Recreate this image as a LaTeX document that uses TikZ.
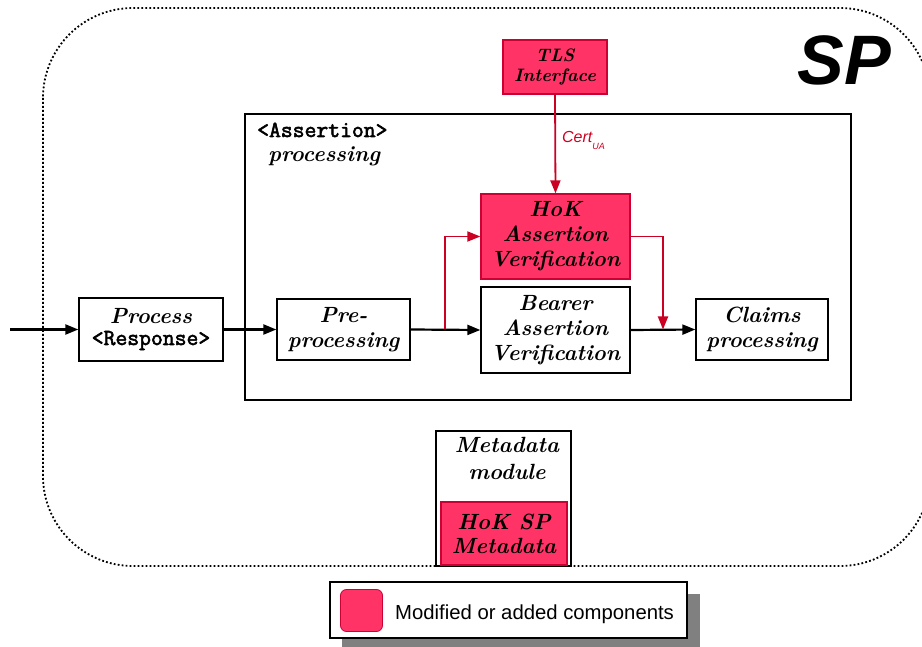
\documentclass[tikz,border=0pt]{standalone}
\usepackage{fontspec}
\usetikzlibrary{arrows.meta}
\newfontfamily\sansf{Liberation Sans}
\newfontfamily\monof[AutoFakeBold=2.5]{Latin Modern Mono}
\definecolor{hokred}{HTML}{FF3366}
\definecolor{hokedge}{HTML}{CC0033}
\definecolor{linkred}{HTML}{CC0022}
\definecolor{shadowgray}{HTML}{808080}
\tikzset{
  unit/.style={draw=black, line width=1.3pt, fill=white, align=center, inner sep=0pt,
    font=\bfseries\itshape\fontsize{22}{25}\selectfont},
  added/.style={unit, fill=hokred, draw=hokedge},
  frame/.style={draw=black, line width=1.3pt},
  flow/.style={line width=2.2pt, -{Triangle[length=13pt,width=10pt]}},
  redflow/.style={draw=linkred, line width=1.8pt, -{Triangle[length=13pt,width=10pt]}, color=linkred},
  boundary/.style={draw=black, line width=1.8pt, dash pattern=on 1.8pt off 2.2pt, rounded corners=90pt},
}
\begin{document}
\begin{tikzpicture}[x=1pt,y=-1pt]
\useasboundingbox (0,0) rectangle (922,647);
\begin{scope}
\clip (0,0) rectangle (922,647);

% service provider boundary
\draw[boundary] (43,8) rectangle (930,566);
\node[anchor=base, font=\sansf\bfseries\itshape\fontsize{70}{70}\selectfont] (sp) at (844,85) {SP};

% assertion processing container
\draw[frame] (245,114) rectangle (851,400);
\node[anchor=base west, font=\monof\bfseries\fontsize{23}{23}\selectfont, inner sep=0pt] (asstitle) at (257,137) {<Assertion>};
\node[anchor=base west, font=\bfseries\itshape\fontsize{22}{22}\selectfont, inner sep=0pt] (asssub) at (268,162) {processing};

% processing units
\node[unit, minimum width=144pt, minimum height=63pt] (proc) at (151,329.5)
  {Process\\[-4pt]{\monof\upshape\bfseries\fontsize{23}{23}\selectfont <Response>}};
\node[unit, minimum width=133pt, minimum height=61pt] (pre) at (343.5,329.5) {Pre-\\processing};
\node[added, minimum width=149pt, minimum height=85pt] (hok) at (555.5,236.5) {HoK\\Assertion\\Verification};
\node[unit, minimum width=149pt, minimum height=86pt] (bearer) at (555.5,330) {Bearer\\Assertion\\Verification};
\node[unit, minimum width=132pt, minimum height=61pt] (claims) at (762,329.5) {Claims\\processing};
\node[added, minimum width=104pt, minimum height=54pt, font=\bfseries\itshape\fontsize{18}{20}\selectfont] (tls) at (555,67) {TLS\\Interface};

% metadata module
\draw[frame] (436,431) rectangle (571,566);
\node[anchor=north, align=center, inner sep=0pt, font=\bfseries\itshape\fontsize{22}{27}\selectfont] (mdtitle) at (507,437) {Metadata\\module};
\node[added, minimum width=126pt, minimum height=63pt, font=\bfseries\itshape\fontsize{22}{24}\selectfont] (hokmd) at (504,533.5) {HoK SP\\Metadata};

% connectors
\coordinate (in) at (10,329.5);
\coordinate (split) at (445,329.5);
\coordinate (join) at (663,329.5);
\draw[flow] (in) -- (proc.west);
\draw[flow] (proc.east) -- (pre.west);
\draw[flow] (pre.east) -- (bearer.west);
\draw[flow] (bearer.east) -- (claims.west);
\draw[redflow] (split) |- (hok.west);
\draw[redflow] (hok.east) -| (join);
\draw[redflow] (tls.south) -- (hok.north)
  node[pos=0.48, anchor=base west, inner sep=0pt, xshift=6pt, text=linkred,
       font=\sansf\itshape\fontsize{16}{16}\selectfont] (cert)
  {Cert\raisebox{-7pt}{\fontsize{9}{9}\selectfont UA}};

% legend
\fill[shadowgray] (342,594) rectangle (700,652);
\draw[frame, fill=white] (330,582) rectangle (687,638);
\node[draw=hokedge, line width=0.8pt, fill=hokred, rounded corners=6pt, minimum width=42pt, minimum height=42pt, inner sep=0pt] (key) at (361.5,610.5) {};
\node[anchor=base west, inner sep=0pt, font=\sansf\fontsize{20.3}{20}\selectfont] (keytext) at (395,619) {Modified or added components};
\end{scope}
\end{tikzpicture}
\end{document}
